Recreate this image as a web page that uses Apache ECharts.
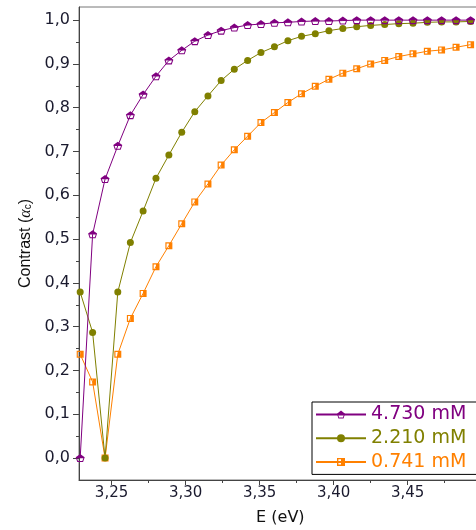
<!DOCTYPE html>
<html>
<head>
<meta charset="utf-8">
<script src="https://cdn.jsdelivr.net/npm/echarts@6/dist/echarts.min.js"></script>
<style>
  html, body { margin: 0; padding: 0; background: #fff; }
  #chart { width: 476px; height: 530px; }
</style>
</head>
<body>
<div id="chart"></div>
<script>
// Photon energy of each sample point (eV)
const energy = [3.2288, 3.2372, 3.2456, 3.2542, 3.2627, 3.2713, 3.2800, 3.2887, 3.2974, 3.3062,
                3.3151, 3.3240, 3.3329, 3.3419, 3.3509, 3.3600, 3.3691, 3.3783, 3.3876, 3.3968,
                3.4062, 3.4156, 3.4250, 3.4345, 3.4440, 3.4536, 3.4633, 3.4729, 3.4827, 3.4925];

// Contrast for each concentration
const contrast4730 = [0.000, 0.511, 0.637, 0.713, 0.783, 0.830, 0.872, 0.908, 0.931, 0.952,
                      0.966, 0.976, 0.983, 0.989, 0.991, 0.994, 0.995, 0.997, 0.998, 0.998,
                      0.999, 1.000, 1.000, 1.000, 1.000, 1.000, 1.000, 1.000, 1.000, 1.000];
const contrast2210 = [0.379, 0.287, 0.000, 0.379, 0.492, 0.564, 0.639, 0.692, 0.744, 0.791,
                      0.827, 0.862, 0.888, 0.908, 0.926, 0.939, 0.953, 0.963, 0.969, 0.976,
                      0.981, 0.985, 0.988, 0.990, 0.992, 0.993, 0.995, 0.996, 0.996, 0.997];
const contrast0741 = [0.237, 0.174, 0.000, 0.237, 0.319, 0.376, 0.437, 0.485, 0.535, 0.585,
                      0.626, 0.669, 0.704, 0.735, 0.766, 0.789, 0.812, 0.832, 0.849, 0.865,
                      0.879, 0.889, 0.900, 0.908, 0.917, 0.923, 0.929, 0.932, 0.938, 0.944];

const seriesNames = ['4.730 mM', '2.210 mM', '0.741 mM'];

// Axis ticks
const xTicks = [3.25, 3.30, 3.35, 3.40, 3.45];
const xMinorTicks = [3.275, 3.325, 3.375, 3.425, 3.475];
const yTicks = [0.0, 0.1, 0.2, 0.3, 0.4, 0.5, 0.6, 0.7, 0.8, 0.9, 1.0];
const yMinorTicks = [0.05, 0.15, 0.25, 0.35, 0.45, 0.55, 0.65, 0.75, 0.85, 0.95];

const PURPLE = '#800080';
const OLIVE = '#808000';
const ORANGE = '#ff8000';
const AXIS = '#444';
const LABEL = '#1a1a2e';

// Half-filled markers: outer outline with a reverse-wound hole
const halfPentagon = 'path://M5,0 L10,3.6 L8.2,9 L1.8,9 L0,3.6 Z M1.5,4.7 L2.6,7.8 L7.4,7.8 L8.5,4.7 Z';
const halfSquare = 'path://M0,0 L10,0 L10,10 L0,10 Z M1.7,1.7 L1.7,8.3 L5,8.3 L5,1.7 Z';

const commaFmt = (digits) => (v) => v.toFixed(digits).replace('.', ',');

const GRID = { left: 79, top: 7, right: -5.7, bottom: 50 };
const plotW = 476 - GRID.left - GRID.right;
const plotH = 530 - GRID.top - GRID.bottom;

const pairs = (ys) => energy.map((e, i) => [e, ys[i]]);

const chart = echarts.init(document.getElementById('chart'), null, { renderer: 'canvas' });

chart.setOption({
  animation: false,
  backgroundColor: '#fff',
  grid: Object.assign({
    show: true, borderColor: '#777', borderWidth: 1, backgroundColor: 'transparent',
    containLabel: false, outerBoundsMode: 'none'
  }, GRID),
  legend: {
    data: [
      { name: seriesNames[0], textStyle: { color: PURPLE } },
      { name: seriesNames[1], textStyle: { color: OLIVE } },
      { name: seriesNames[2], textStyle: { color: ORANGE } }
    ],
    orient: 'vertical',
    left: 312,
    top: 402,
    backgroundColor: '#fff',
    borderColor: '#000',
    borderWidth: 1,
    borderRadius: 0,
    padding: [3, 22, 3, 3],
    itemGap: 4.7,
    itemWidth: 50,
    itemHeight: 10,
    textStyle: { fontFamily: 'DejaVu Sans', fontSize: 19, lineHeight: 18 }
  },
  xAxis: [
    {
      type: 'value', min: 3.228, max: 3.5, position: 'bottom',
      name: 'E (eV)', nameLocation: 'middle', nameGap: 30,
      nameTextStyle: { fontFamily: 'DejaVu Sans', fontSize: 16, color: '#111' },
      axisLine: { show: true, onZero: false, lineStyle: { color: AXIS, width: 1 } },
      axisTick: { show: true, customValues: xTicks, length: 5, lineStyle: { color: AXIS } },
      axisLabel: { customValues: xTicks, formatter: commaFmt(2), fontFamily: 'DejaVu Sans', fontSize: 15, color: LABEL, margin: 6 },
      splitLine: { show: false }
    },
    {
      // minor ticks, laid over the bottom axis line
      type: 'value', min: 3.228, max: 3.5, position: 'top', offset: -plotH,
      axisLine: { show: false },
      axisTick: { show: true, inside: true, customValues: xMinorTicks, length: 3, lineStyle: { color: AXIS } },
      axisLabel: { show: false },
      splitLine: { show: false }
    }
  ],
  yAxis: [
    {
      type: 'value', min: -0.05, max: 1.03, position: 'left',
      name: 'Contrast ({a|α}{b|c})', nameLocation: 'middle', nameGap: 44,
      nameTextStyle: {
        fontFamily: 'Liberation Sans', fontSize: 16, color: '#111',
        rich: {
          a: { fontFamily: 'Liberation Serif', fontStyle: 'italic', fontSize: 16, color: '#111' },
          b: { fontFamily: 'Liberation Sans', fontSize: 10, color: '#111', verticalAlign: 'bottom', lineHeight: 12 }
        }
      },
      axisLine: { show: true, onZero: false, lineStyle: { color: AXIS, width: 1 } },
      axisTick: { show: true, customValues: yTicks, length: 6, lineStyle: { color: AXIS } },
      axisLabel: { customValues: yTicks, formatter: commaFmt(1), fontFamily: 'DejaVu Sans', fontSize: 16, color: LABEL, margin: 9 },
      splitLine: { show: false }
    },
    {
      // minor ticks, laid over the left axis line
      type: 'value', min: -0.05, max: 1.03, position: 'right', offset: -plotW,
      axisLine: { show: false },
      axisTick: { show: true, inside: true, customValues: yMinorTicks, length: 3, lineStyle: { color: AXIS } },
      axisLabel: { show: false },
      splitLine: { show: false }
    }
  ],
  series: [
    {
      name: seriesNames[2], type: 'line', data: pairs(contrast0741),
      xAxisIndex: 0, yAxisIndex: 0, clip: false, showAllSymbol: true,
      symbol: halfSquare, symbolSize: [7, 7],
      itemStyle: { color: ORANGE },
      lineStyle: { color: ORANGE, width: 1 }
    },
    {
      name: seriesNames[1], type: 'line', data: pairs(contrast2210),
      xAxisIndex: 0, yAxisIndex: 0, clip: false, showAllSymbol: true,
      symbol: 'circle', symbolSize: 7,
      itemStyle: { color: OLIVE },
      lineStyle: { color: OLIVE, width: 1 }
    },
    {
      name: seriesNames[0], type: 'line', data: pairs(contrast4730),
      xAxisIndex: 0, yAxisIndex: 0, clip: false, showAllSymbol: true,
      symbol: halfPentagon, symbolSize: [9, 8],
      itemStyle: { color: PURPLE },
      lineStyle: { color: PURPLE, width: 1 }
    }
  ]
});
</script>
</body>
</html>
